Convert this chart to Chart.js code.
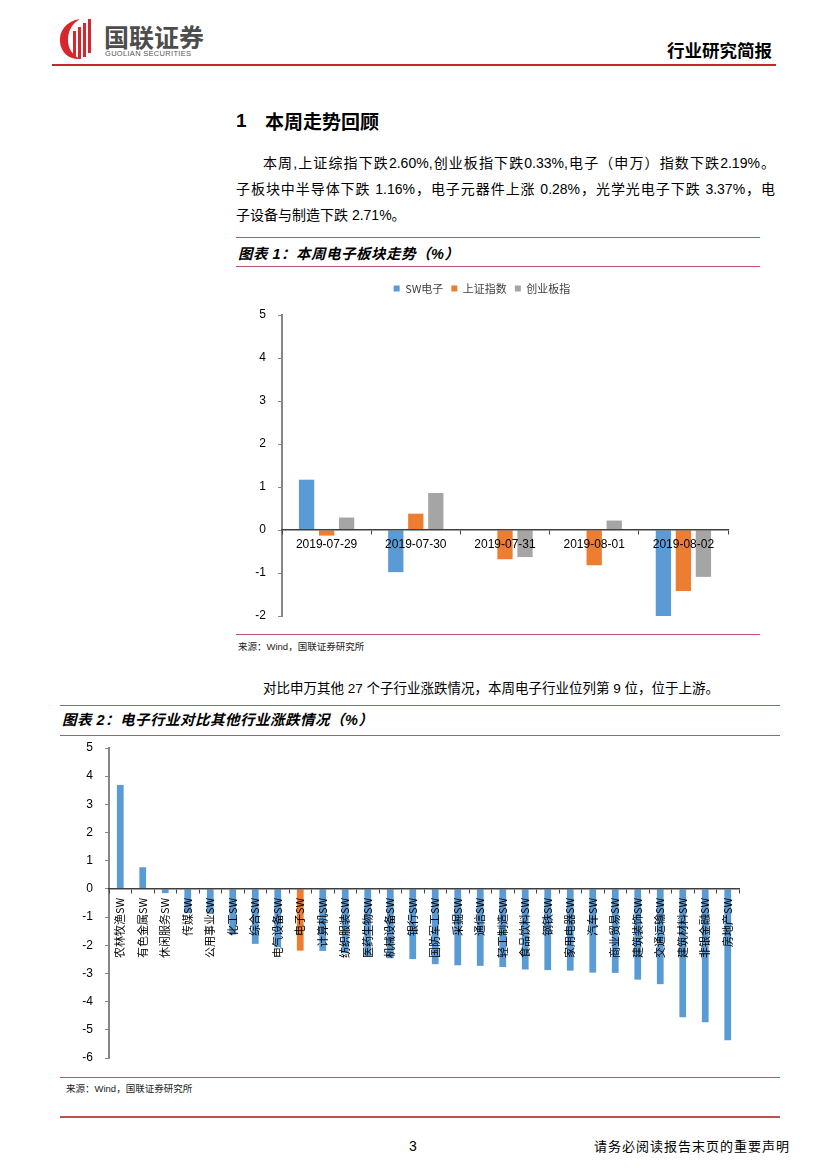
<!DOCTYPE html>
<html>
<head>
<meta charset="utf-8">
<script src="https://cdn.jsdelivr.net/npm/chart.js@4.4.1/dist/chart.umd.min.js"></script>
<style>
  html, body { margin:0; padding:0; background:#fff; }
  body { width:827px; height:1169px; position:relative; overflow:hidden;
         font-family:"Liberation Sans","Noto Sans CJK SC",sans-serif; color:#000; }
  .abs { position:absolute; white-space:nowrap; }
  .line { position:absolute; height:0; }
  .jl { position:absolute; height:20px; line-height:20px; font-size:14px;
        text-align:justify; text-align-last:justify; }
  .cap { position:absolute; font-size:14.5px; font-weight:bold; font-style:italic; line-height:18px; white-space:nowrap; letter-spacing:0.5px; }
  .src { position:absolute; font-size:9.5px; color:#222; line-height:12px; white-space:nowrap; }
</style>
</head>
<body>
<!-- header -->
<svg class="abs" style="left:58px;top:17px" width="40" height="44" viewBox="0 0 40 44">
  <path d="M22 2 C8 4 1 14 2 25 C3 36 12 43 22 42 C14 38 10 31 10 23 C10 13 15 6 22 2 Z" fill="#d7262d"/>
  <rect x="15" y="14" width="3" height="27" fill="#d7262d"/>
  <rect x="20" y="10" width="3" height="32" fill="#d7262d"/>
  <rect x="25" y="6" width="3" height="34" fill="#d7262d"/>
  <rect x="30" y="2" width="3" height="34" fill="#d7262d"/>
</svg>
<div class="abs" style="left:104px;top:22px;font-size:25px;font-weight:bold;color:#4d4d4d;font-family:'Noto Sans CJK SC';line-height:28px">国联证券</div>
<div class="abs" style="left:105px;top:49px;font-size:7.5px;color:#555;line-height:9px;letter-spacing:0.3px">GUOLIAN SECURITIES</div>
<div class="abs" style="left:667px;top:39px;font-size:17.5px;font-weight:bold;font-family:'Noto Sans CJK SC';line-height:22px">行业研究简报</div>
<div class="line" style="left:52px;top:64px;width:724px;border-top:2px solid #c0282d"></div>

<!-- section title -->
<div class="abs" style="left:236px;top:109px;font-size:19px;font-weight:bold;line-height:24px">1</div>
<div class="abs" style="left:265px;top:109px;font-size:19px;font-weight:bold;line-height:24px;font-family:'Noto Sans CJK SC'">本周走势回顾</div>

<div class="jl" style="left:263px;top:153px;width:512px">本周,上证综指下跌2.60%,创业板指下跌0.33%,电子（申万）指数下跌2.19%。</div>
<div class="jl" style="left:236px;top:179px;width:539px">子板块中半导体下跌 1.16%，电子元器件上涨 0.28%，光学光电子下跌 3.37%，电</div>
<div class="abs" style="left:236px;top:205px;height:20px;line-height:20px;font-size:14px">子设备与制造下跌 2.71%。</div>

<!-- chart 1 frame -->
<div class="line" style="left:236px;top:237px;width:524px;border-top:1.5px solid #c0506e"></div>
<div class="cap" style="left:238px;top:245px">图表 1：本周电子板块走势（%）</div>
<div class="line" style="left:236px;top:266px;width:524px;border-top:1.5px solid #c0506e"></div>
<canvas id="c1" class="abs" style="left:236px;top:275px" width="524" height="357"></canvas>
<div class="line" style="left:236px;top:634px;width:524px;border-top:1.5px solid #c0506e"></div>
<div class="src" style="left:238px;top:641px">来源：Wind，国联证券研究所</div>

<div class="abs" style="left:263px;top:679px;height:20px;line-height:20px;font-size:13.5px">对比申万其他 27 个子行业涨跌情况，本周电子行业位列第 9 位，位于上游。</div>

<!-- chart 2 frame -->
<div class="line" style="left:60px;top:705px;width:720px;border-top:1.5px solid #c0506e"></div>
<div class="cap" style="left:62px;top:711px">图表 2：电子行业对比其他行业涨跌情况（%）</div>
<div class="line" style="left:60px;top:735px;width:720px;border-top:1.5px solid #c0506e"></div>
<canvas id="c2" class="abs" style="left:60px;top:738px" width="720" height="335"></canvas>
<div class="line" style="left:60px;top:1077px;width:720px;border-top:1.5px solid #c0506e"></div>
<div class="src" style="left:66px;top:1083px">来源：Wind，国联证券研究所</div>

<!-- footer -->
<div class="line" style="left:60px;top:1116px;width:720px;border-top:2.5px solid #c0504d"></div>
<div class="abs" style="left:409px;top:1137px;font-size:14px;line-height:18px">3</div>
<div class="abs" style="left:594px;top:1137px;font-size:13px;line-height:18px;letter-spacing:1px;font-family:'Noto Sans CJK SC'">请务必阅读报告末页的重要声明</div>

<script>
// ---------- data ----------
const dates = ['2019-07-29','2019-07-30','2019-07-31','2019-08-01','2019-08-02'];
const seriesNames = ['SW电子','上证指数','创业板指'];
const swElectronics = [1.17, -0.98, 0.00, 0.02, -2.02];
const shanghaiIndex = [-0.13, 0.38, -0.68, -0.82, -1.42];
const chinextIndex = [0.29, 0.86, -0.63, 0.22, -1.09];

const industries = ['农林牧渔SW','有色金属SW','休闲服务SW','传媒SW','公用事业SW','化工SW','综合SW',
  '电气设备SW','电子SW','计算机SW','纺织服装SW','医药生物SW','机械设备SW','银行SW','国防军工SW',
  '采掘SW','通信SW','轻工制造SW','食品饮料SW','钢铁SW','家用电器SW','汽车SW','商业贸易SW',
  '建筑装饰SW','交通运输SW','建筑材料SW','非银金融SW','房地产SW'];
const industryChange = [3.69, 0.77, -0.15, -0.86, -0.89, -1.62, -1.95,
  -2.07, -2.19, -2.20, -2.28, -2.40, -2.46, -2.49, -2.67,
  -2.71, -2.73, -2.77, -2.86, -2.88, -2.90, -2.97, -2.98,
  -3.22, -3.38, -4.55, -4.73, -5.37];
const highlightIndustry = '电子SW';

// ---------- styles ----------
const BLUE = '#5b9bd5', ORANGE = '#ed7d31', GRAY = '#a5a5a5';
Chart.defaults.font.family = '"Liberation Sans","Noto Sans CJK SC",sans-serif';
Chart.defaults.color = '#000';
Chart.defaults.animation = false;

const legendHeight = {
  id: 'legendHeight',
  beforeLayout(chart, args, opts) {
    const lg = chart.legend;
    if (lg && !lg._fixed) {
      const f = lg.fit;
      lg.fit = function () { f.call(this); this.height = opts.height; };
      lg._fixed = true;
    }
  }
};

function yAxis(min, max, width) {
  return {
    min, max,
    ticks: { stepSize: 1, padding: 12, font: { size: 12 }, color: '#000' },
    grid: { drawOnChartArea: false, drawTicks: true, tickLength: 4, color: '#868686', lineWidth: 1 },
    border: { display: true, color: '#868686', width: 2 },
    afterFit(s) { s.width = width; s.paddingTop = 0; s.paddingBottom = 0; }
  };
}

function xAxisOnZero(tickOpts) {
  return {
    position: { y: 0 },
    ticks: Object.assign({ autoSkip: false, z: 1, color: '#000' }, tickOpts),
    grid: { offset: true, drawOnChartArea: false, drawTicks: true, tickLength: 4, color: '#404040', z: 1 },
    border: { display: true, color: '#404040', width: 1.5, z: 1 }
  };
}

new Chart(document.getElementById('c1'), {
  type: 'bar',
  data: {
    labels: dates,
    datasets: [
      { label: seriesNames[0], data: swElectronics, backgroundColor: BLUE },
      { label: seriesNames[1], data: shanghaiIndex, backgroundColor: ORANGE },
      { label: seriesNames[2], data: chinextIndex, backgroundColor: GRAY }
    ]
  },
  options: {
    responsive: false,
    devicePixelRatio: 1,
    categoryPercentage: 0.673,
    barPercentage: 0.765,
    layout: { padding: { left: 0, right: 32, top: 0, bottom: 16 } },
    plugins: {
      legend: {
        position: 'top',
        labels: { boxWidth: 6, boxHeight: 6, padding: 8, color: '#404040',
                  font: { size: 11, family: '"Noto Sans CJK SC"' } }
      },
      legendHeight: { height: 40 },
      tooltip: { enabled: false }
    },
    scales: {
      x: xAxisOnZero({ maxRotation: 0, padding: 3, font: { size: 12 } }),
      y: yAxis(-2, 5, 46)
    }
  },
  plugins: [legendHeight]
});

new Chart(document.getElementById('c2'), {
  type: 'bar',
  data: {
    labels: industries,
    datasets: [{
      label: '涨跌幅',
      data: industryChange,
      backgroundColor: industries.map(n => n === highlightIndustry ? ORANGE : BLUE)
    }]
  },
  options: {
    responsive: false,
    devicePixelRatio: 1,
    categoryPercentage: 1,
    barPercentage: 0.3,
    layout: { padding: { left: 0, right: 41, top: 10, bottom: 15 } },
    plugins: { legend: { display: false }, tooltip: { enabled: false } },
    scales: {
      x: xAxisOnZero({ minRotation: 90, maxRotation: 90, padding: 5,
                       font: { size: 11, family: '"Noto Sans CJK SC"' } }),
      y: yAxis(-6, 5, 49)
    }
  }
});
</script>
</body>
</html>
